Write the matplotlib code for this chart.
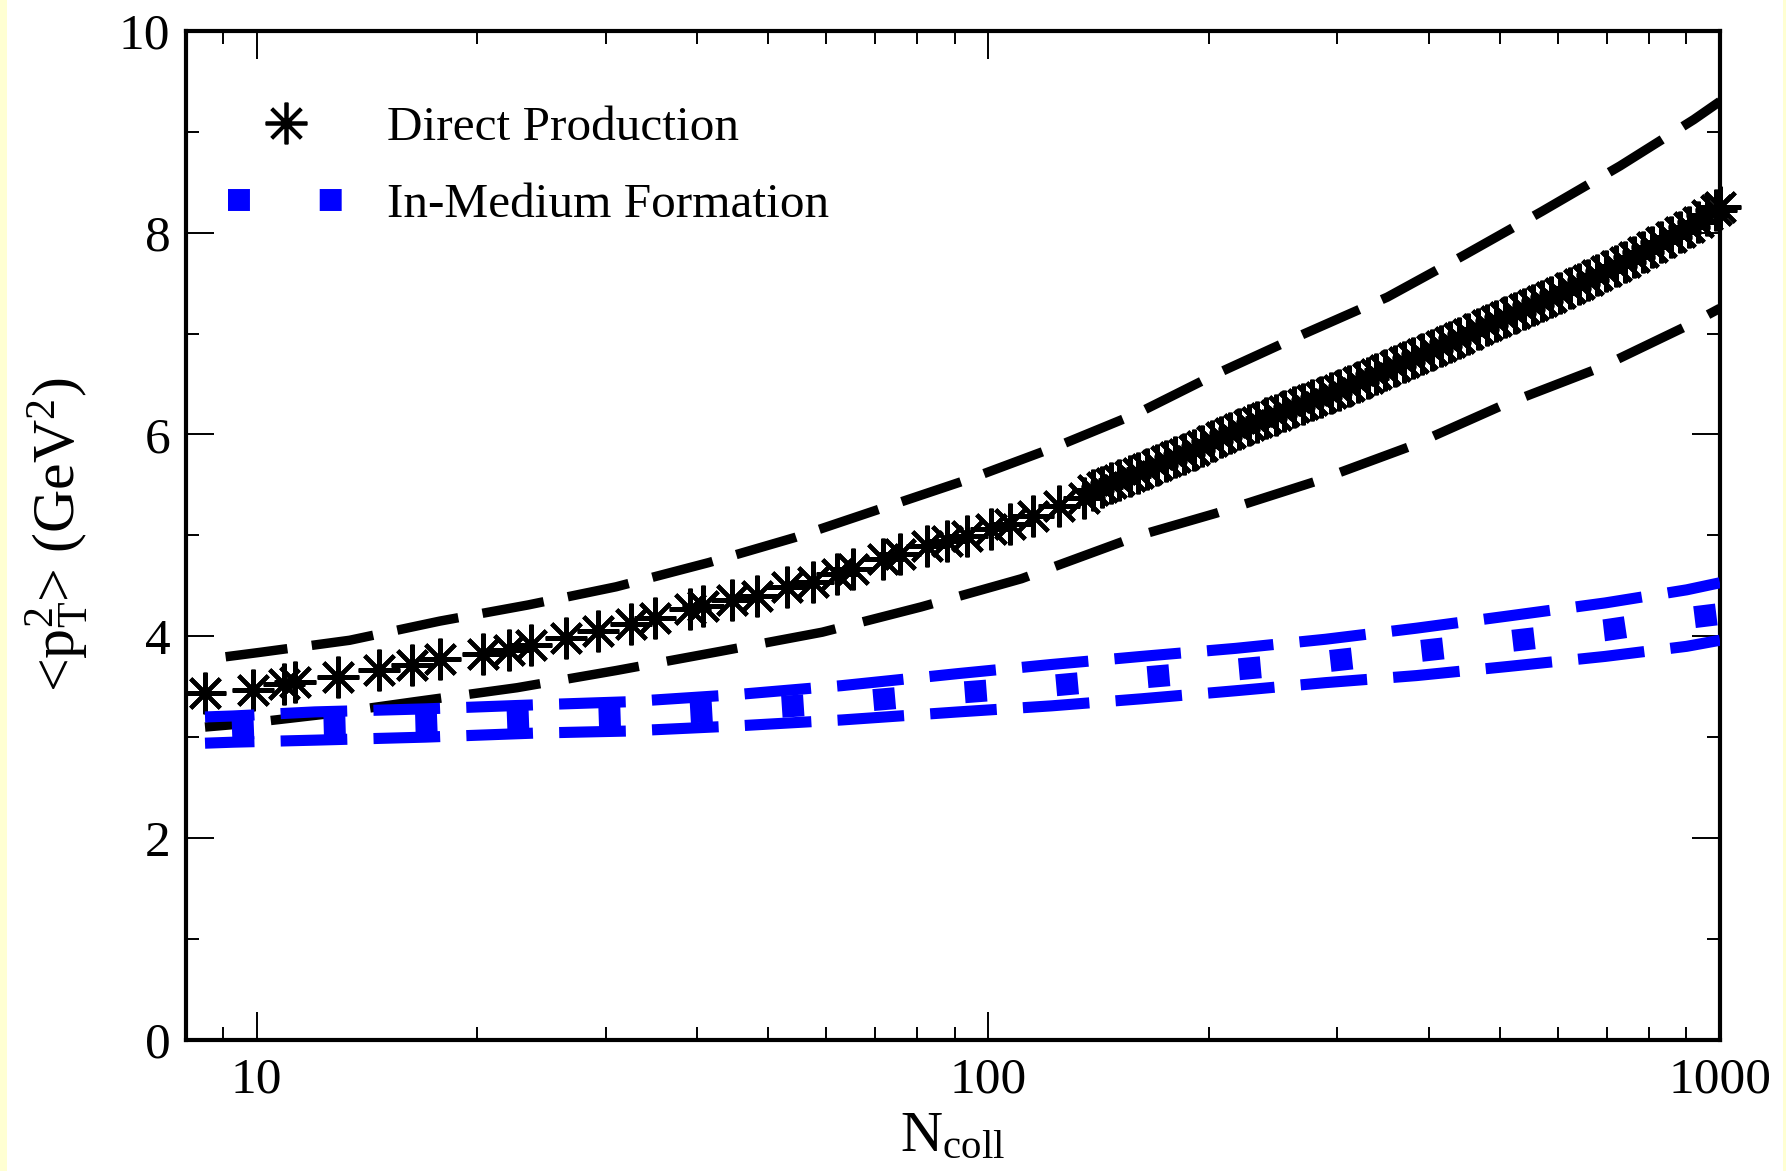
import matplotlib
matplotlib.use("Agg")
import matplotlib.pyplot as plt
from matplotlib.lines import Line2D
from matplotlib.patches import Rectangle
from matplotlib.ticker import MultipleLocator, NullFormatter

plt.rcParams["font.family"] = ["Liberation Serif", "DejaVu Serif"]
plt.rcParams["mathtext.fontset"] = "custom"
plt.rcParams["mathtext.rm"] = "Liberation Serif"
plt.rcParams["mathtext.it"] = "Liberation Serif:italic"

# direct production, central values
ncoll_direct = [8.5, 9.9, 10.9, 11.3, 12.9, 14.7, 16.3, 17.8, 20.4, 22.1, 23.7, 26.5,
                29.3, 32.5, 35.0, 39.1, 40.7, 44.6, 48.3, 53.0, 57.6, 62.1, 65.3, 71.7,
                75.7, 82.4, 87.8, 93.5, 101, 107, 115, 125, 135, 139, 143, 147, 151,
                156, 160, 165, 170, 175, 180, 185, 191, 196, 202, 208, 214, 220, 227,
                233, 240, 247, 254, 262, 269, 277, 285, 294, 302, 311, 320, 330, 339,
                349, 360, 370, 381, 392, 404, 416, 428, 440, 453, 467, 480, 494, 509,
                524, 539, 555, 571, 588, 605, 623, 641, 660, 679, 699, 720, 741, 762,
                785, 808, 831, 856, 881, 907, 933, 961, 989, 1000]
pt2_direct = [3.44, 3.47, 3.53, 3.55, 3.60, 3.67, 3.71, 3.77, 3.82, 3.86, 3.91, 3.98,
              4.05, 4.12, 4.18, 4.27, 4.30, 4.36, 4.40, 4.49, 4.54, 4.62, 4.67, 4.77,
              4.81, 4.89, 4.94, 4.99, 5.06, 5.11, 5.19, 5.29, 5.37, 5.45, 5.48, 5.52, 5.55,
              5.59, 5.62, 5.66, 5.70, 5.74, 5.78, 5.81, 5.85, 5.89, 5.93, 5.97, 6.01, 6.05, 6.09,
              6.12, 6.16, 6.19, 6.23, 6.27, 6.30, 6.34, 6.37, 6.41, 6.44, 6.48, 6.52, 6.56, 6.60,
              6.64, 6.68, 6.72, 6.76, 6.80, 6.84, 6.88, 6.92, 6.96, 7.00, 7.04, 7.08, 7.12, 7.16,
              7.20, 7.24, 7.28, 7.32, 7.36, 7.40, 7.45, 7.49, 7.53, 7.58, 7.62, 7.67, 7.71, 7.76,
              7.81, 7.86, 7.91, 7.96, 8.01, 8.06, 8.11, 8.17, 8.22, 8.25]

# direct production, upper / lower edge
ncoll_direct_hi = [8.5, 10.1, 13.4, 17.8, 23.5, 31, 41.5, 54.5, 71.7, 94.4, 124, 160,
                   205, 265, 351, 448, 571, 730, 921, 1000]
pt2_direct_hi = [3.77, 3.84, 3.96, 4.15, 4.31, 4.49, 4.73, 4.98, 5.27, 5.56, 5.88, 6.21,
                 6.60, 6.97, 7.36, 7.78, 8.21, 8.66, 9.12, 9.30]
ncoll_direct_lo = [8.5, 9.5, 12.5, 16.4, 22.7, 31, 43, 59.3, 80.9, 111, 161, 205, 279,
                   377, 505, 685, 904, 1000]
pt2_direct_lo = [3.10, 3.13, 3.23, 3.35, 3.49, 3.66, 3.85, 4.04, 4.29, 4.57, 5.00, 5.22,
                 5.53, 5.88, 6.29, 6.66, 7.08, 7.25]

# in-medium formation
ncoll_medium = [8.5, 9.3, 12, 17, 24, 32, 45, 63, 91, 122, 162, 218, 289, 385, 513,
                697, 901, 1000]
pt2_medium_hi = [3.20, 3.21, 3.25, 3.28, 3.32, 3.35, 3.42, 3.51, 3.63, 3.72, 3.80, 3.88,
                 3.97, 4.08, 4.20, 4.33, 4.46, 4.53]
pt2_medium = [3.07, 3.08, 3.11, 3.14, 3.18, 3.21, 3.27, 3.34, 3.44, 3.51, 3.59, 3.67,
              3.75, 3.85, 3.95, 4.06, 4.18, 4.22]
pt2_medium_lo = [2.94, 2.95, 2.97, 3.00, 3.04, 3.06, 3.11, 3.17, 3.25, 3.31, 3.38, 3.46,
                 3.54, 3.61, 3.70, 3.80, 3.90, 3.96]

xticks = [10, 100, 1000]
xticklabels = ["10", "100", "1000"]

fig = plt.figure(figsize=(17.86, 11.71), dpi=100)
fig.patch.set_facecolor("white")
fig.add_artist(Rectangle((0, 0), 0.004, 1, transform=fig.transFigure,
                         color="#ffffd2", lw=0, zorder=-10))
fig.add_artist(Rectangle((0.9983, 0), 0.0017, 1, transform=fig.transFigure,
                         color="#ffffd2", lw=0, zorder=-10))

ax = fig.add_axes([0.104, 0.112, 0.859, 0.8617])

# black dashed band
ax.plot(ncoll_direct_hi, pt2_direct_hi, color="black", lw=6.8,
        linestyle=(7.0, (6.6, 2.6)), dash_capstyle="butt", zorder=2)
ax.plot(ncoll_direct_lo, pt2_direct_lo, color="black", lw=6.8,
        linestyle=(3.6, (7.6, 3.0)), dash_capstyle="butt", zorder=2)

# stars
ax.plot(ncoll_direct, pt2_direct, linestyle="none", marker=(8, 2, 0), ms=30,
        mew=3.0, color="black", clip_on=False, zorder=3)

# blue band
ax.plot(ncoll_medium, pt2_medium_hi, color="#0000ff", lw=8.0,
        linestyle=(1.55, (6.0, 2.36)), dash_capstyle="butt", zorder=4)
ax.plot(ncoll_medium, pt2_medium_lo, color="#0000ff", lw=8.0,
        linestyle=(1.55, (6.0, 2.36)), dash_capstyle="butt", zorder=4)
ax.plot(ncoll_medium, pt2_medium, color="#0000ff", lw=15.8,
        linestyle=(2.95, (1.0, 3.18)), dash_capstyle="butt", zorder=4)

ax.set_xscale("log")
ax.set_xlim(8, 1000)
ax.set_ylim(0, 10)
ax.set_xticks(xticks)
ax.set_xticklabels(xticklabels)
ax.xaxis.set_minor_formatter(NullFormatter())
ax.yaxis.set_major_locator(MultipleLocator(2))
ax.yaxis.set_minor_locator(MultipleLocator(1))

for s in ax.spines.values():
    s.set_linewidth(3)
ax.tick_params(which="both", direction="in", top=True, right=True, width=1.4,
               labelsize=37)
ax.tick_params(which="major", length=20)
ax.tick_params(which="minor", length=9.5)
ax.tick_params(axis="x", pad=12)
ax.tick_params(axis="y", pad=11)

ax.set_xlabel(r"N$_{\rm coll}$", fontsize=42, labelpad=6)
ax.set_ylabel(r"<p$_{\rm T}^{2}$> (GeV$^{2}$)", fontsize=43, labelpad=20)

h_direct = Line2D([], [], linestyle="none", marker=(8, 2, 0), ms=30, mew=2.7,
                  color="black")
h_medium = Line2D([], [], color="#0000ff", lw=15.8, linestyle=(0, (1.0, 3.18)),
                  dash_capstyle="butt")
ax.legend([h_direct, h_medium], ["Direct Production", "In-Medium Formation"],
          loc="upper left", bbox_to_anchor=(0.0274, 0.926), borderaxespad=0,
          borderpad=0, frameon=False, fontsize=35.5, handlelength=2.37,
          handletextpad=0.86, labelspacing=0.66, numpoints=1)

fig.savefig("out.png", dpi=100)
